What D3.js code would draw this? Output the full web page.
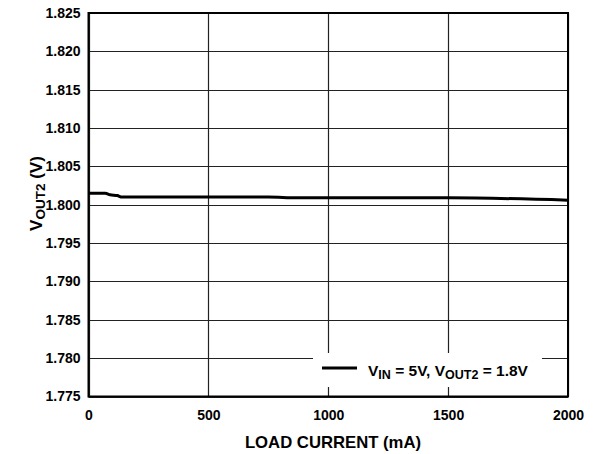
<!DOCTYPE html>
<html><head><meta charset="utf-8">
<script src="https://cdn.jsdelivr.net/npm/d3@7"></script>
<style>body{margin:0;background:#fff;} text{font-family:"Liberation Sans",Arial,sans-serif;font-weight:bold;}</style>
</head><body>
<svg id="c" width="593" height="454"></svg>
<script>
const loadCurrent = [0, 70, 90, 120, 140, 750, 870, 1500, 2000];
const vout = [1.8015, 1.8015, 1.8013, 1.8012, 1.8010, 1.8010, 1.8009, 1.8009, 1.8006];
const xTicks = [0, 500, 1000, 1500, 2000];
const yTicks = [1.775, 1.780, 1.785, 1.790, 1.795, 1.800, 1.805, 1.810, 1.815, 1.820, 1.825];

const svg = d3.select("#c");
const L = 88.5, R = 568, T = 13, B = 396.5;
const x = d3.scaleLinear().domain([0, 2000]).range([L, R]);
const y = d3.scaleLinear().domain([1.775, 1.825]).range([B, T]);

// grid
svg.append("g").selectAll("line").data(yTicks).join("line")
  .attr("x1", L).attr("x2", R).attr("y1", d => Math.round(y(d)) + 0.5).attr("y2", d => Math.round(y(d)) + 0.5)
  .attr("stroke", "#222").attr("stroke-width", 1.2);
svg.append("g").selectAll("line").data(xTicks).join("line")
  .attr("y1", T).attr("y2", B).attr("x1", d => Math.round(x(d)) + 0.5).attr("x2", d => Math.round(x(d)) + 0.5)
  .attr("stroke", "#222").attr("stroke-width", 1.2);

// axes labels via d3 axes
const xAxis = svg.append("g").attr("transform", `translate(0,${B})`)
  .call(d3.axisBottom(x).tickValues(xTicks).tickSize(0).tickPadding(14).tickFormat(d3.format("d")));
xAxis.select(".domain").remove();
xAxis.selectAll("text").attr("font-size", 14).attr("fill", "#000")
  .style("font-family", "Liberation Sans, Arial, sans-serif").style("font-weight", "bold");

const yAxis = svg.append("g").attr("transform", `translate(${L},0)`)
  .call(d3.axisLeft(y).tickValues(yTicks).tickSize(0).tickPadding(8).tickFormat(d3.format(".3f")));
yAxis.select(".domain").remove();
yAxis.selectAll("text").attr("font-size", 14).attr("fill", "#000")
  .style("font-family", "Liberation Sans, Arial, sans-serif").style("font-weight", "bold");

// legend box
svg.append("rect").attr("x", 313).attr("y", 353).attr("width", 229).attr("height", 34).attr("fill", "#fff");

// data line
const line = d3.line().x((d, i) => x(loadCurrent[i])).y(d => y(d)).curve(d3.curveMonotoneX);
svg.append("path").datum(vout).attr("d", line).attr("fill", "none").attr("stroke", "#000").attr("stroke-width", 3);

// border
svg.append("rect").attr("x", L).attr("y", T).attr("width", R - L).attr("height", B - T)
  .attr("fill", "none").attr("stroke", "#000").attr("stroke-width", 2);

// legend
svg.append("line").attr("x1", 322).attr("x2", 357).attr("y1", 368).attr("y2", 368).attr("stroke", "#000").attr("stroke-width", 3);
const lt = svg.append("text").attr("x", 368).attr("y", 375.5).attr("font-size", 15.5);
lt.append("tspan").text("V");
lt.append("tspan").attr("font-size", 12.5).attr("dy", 3).text("IN");
lt.append("tspan").attr("dy", -3).text(" = 5V, V");
lt.append("tspan").attr("font-size", 12.5).attr("dy", 3).text("OUT2");
lt.append("tspan").attr("dy", -3).text(" = 1.8V");

// axis titles
svg.append("text").attr("x", 333).attr("y", 447.5).attr("text-anchor", "middle").attr("font-size", 16.7).text("LOAD CURRENT (mA)");
const yt = svg.append("text").attr("transform", `translate(42,193.5) rotate(-90)`).attr("text-anchor", "middle").attr("font-size", 17);
yt.append("tspan").text("V");
yt.append("tspan").attr("font-size", 13.5).attr("dy", 3).text("OUT2");
yt.append("tspan").attr("dy", -3).text(" (V)");
</script>
</body></html>
